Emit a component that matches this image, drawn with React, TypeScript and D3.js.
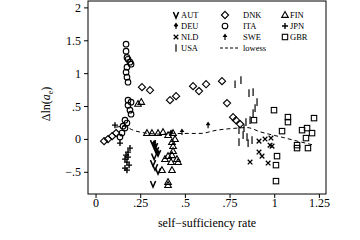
import React from "react";
import * as d3 from "d3";

// values: [self-sufficiency rate, dln(a_e)]
const AUT = [[0.319, -0.056], [0.330, -0.102], [0.336, -0.163], [0.347, -0.208], [0.325, -0.26], [0.319, -0.36], [0.330, -0.421], [0.347, -0.482], [0.319, -0.679]];
const DEU = [[0.42, 0.10], [0.325, -0.06], [0.33, -0.10], [0.335, -0.16], [0.345, -0.20]];
const NLD = [[0.912, -0.026], [0.946, 0.005], [0.979, 0.02], [0.974, -0.087], [0.985, -0.102], [0.912, -0.193], [0.929, -0.254], [0.862, -0.345], [0.963, -0.36]];
const USA = [[0.778, 0.84], [0.811, 0.901], [0.856, 0.704], [0.879, 0.719], [0.901, 0.567], [0.89, 0.476], [0.879, 0.4], [0.862, 0.293], [0.839, 0.263], [0.828, 0.172], [0.8, 0.141], [0.823, 0.065], [0.845, 0.035], [0.8, -0.041], [0.851, -0.056], [0.873, -0.011]];
const DNK = [[0.045, -0.026], [0.067, 0.005], [0.09, 0.05], [0.112, 0.096], [0.257, 0.795], [0.302, 0.749], [0.414, 0.597], [0.448, 0.658], [0.543, 0.81], [0.576, 0.735], [0.616, 0.84], [0.705, 0.886], [0.733, 0.552], [0.767, 0.339], [0.783, 0.293], [0.806, 0.233]];
const ITA = [[0.168, 1.448], [0.168, 1.342], [0.173, 1.247], [0.179, 1.219], [0.19, 1.175], [0.196, 1.144], [0.173, 1.099], [0.168, 1.023], [0.173, 0.947], [0.179, 0.871], [0.179, 0.597], [0.196, 0.567], [0.179, 0.521], [0.19, 0.445], [0.196, 0.384], [0.162, 0.293], [0.173, 0.248], [0.151, 0.202], [0.162, 0.172], [0.145, 0.096], [0.134, 0.035]];
const SWE = [[0.481, 0.111], [0.627, 0.217]];
const FIN = [[0.235, 0.54], [0.253, 0.57], [0.285, 0.096], [0.313, 0.096], [0.347, 0.096], [0.375, 0.111], [0.403, 0.065], [0.431, 0.096], [0.442, 0.005], [0.425, -0.041], [0.431, -0.102], [0.431, -0.178], [0.403, -0.254], [0.425, -0.24], [0.453, -0.299], [0.386, -0.299], [0.42, -0.345], [0.459, -0.345], [0.369, -0.467], [0.425, -0.467], [0.403, -0.649], [0.403, -0.695]];
const JPN = [[0.106, 0.217], [0.134, -0.056], [0.19, -0.132], [0.179, -0.193], [0.168, -0.239], [0.179, -0.269], [0.162, -0.299], [0.173, -0.345], [0.185, -0.391], [0.162, -0.436], [0.173, -0.467]];
const GBR = [[0.884, 0.293], [0.996, 0.445], [1.074, 0.339], [1.074, 0.263], [1.041, 0.126], [1.22, 0.324], [1.153, 0.141], [1.181, 0.172], [1.209, 0.096], [1.175, 0.02], [1.125, -0.087], [1.125, -0.132], [1.186, -0.132], [1.013, -0.254], [1.007, -0.391], [1.007, -0.634]];
const LOWESS = [[0.112, 0.187], [0.157, 0.2], [0.207, 0.141], [0.263, 0.103], [0.358, 0.081], [0.487, 0.091], [0.582, 0.091], [0.677, 0.141], [0.767, 0.167], [0.845, 0.18], [0.918, 0.116], [1.046, 0.03], [1.142, -0.036], [1.22, -0.087]];

const xTicks = [0, 0.25, 0.5, 0.75, 1, 1.25];
const xTickLabels = ["0", ".25", ".5", ".75", "1", "1.25"];
const yTicks = [-0.5, 0, 0.5, 1, 1.5, 2];
const yTickLabels = ["\u2212.5", "0", ".5", "1", "1.5", "2"];

const series = [
  { name: "AUT", shape: "v", data: AUT },
  { name: "DEU", shape: "spade", data: DEU },
  { name: "NLD", shape: "x", data: NLD },
  { name: "USA", shape: "bar", data: USA },
  { name: "DNK", shape: "diamond", data: DNK },
  { name: "ITA", shape: "circle", data: ITA },
  { name: "SWE", shape: "arrow", data: SWE },
  { name: "FIN", shape: "triangle", data: FIN },
  { name: "JPN", shape: "plus", data: JPN },
  { name: "GBR", shape: "square", data: GBR },
];

const FONT = "'Liberation Serif', 'DejaVu Serif', serif";

const Marker = ({ shape, x, y }) => {
  const t = `translate(${x},${y})`;
  const s = { stroke: "#000", strokeWidth: 1.1, fill: "none" };
  switch (shape) {
    case "v":
      return <path transform={t} d="M-2.6,-3L0,3L2.6,-3" {...s} strokeWidth={1.5} />;
    case "spade":
      return <path transform={t} d="M0,-3.4L2.3,-0.3L0.6,0.9L0.6,3L-0.6,3L-0.6,0.9L-2.3,-0.3Z" fill="#000" />;
    case "x":
      return <path transform={t} d="M-2.3,-2.3L2.3,2.3M-2.3,2.3L2.3,-2.3" {...s} strokeWidth={1.3} />;
    case "bar":
      return <path transform={t} d="M0,-3.8L0,3.8" {...s} strokeWidth={1.2} />;
    case "diamond":
      return <path transform={t} d="M0,-3.6L3.6,0L0,3.6L-3.6,0Z" {...s} />;
    case "circle":
      return <circle cx={x} cy={y} r={2.8} {...s} />;
    case "arrow":
      return <path transform={t} d="M0,-3.6L2.4,0L0.6,0L0.6,3L-0.6,3L-0.6,0L-2.4,0Z" fill="#000" />;
    case "triangle":
      return <path transform={t} d="M0,-3.4L3.3,2.4L-3.3,2.4Z" {...s} />;
    case "plus":
      return <path transform={t} d="M-3,0L3,0M0,-3L0,3" {...s} strokeWidth={1.4} />;
    case "square":
      return <rect x={x - 2.7} y={y - 2.7} width={5.4} height={5.4} {...s} />;
    default:
      return null;
  }
};

const legendCols = [
  { mx: 176, tx: 181, items: ["AUT", "DEU", "NLD", "USA"] },
  { mx: 225, tx: 243, items: ["DNK", "ITA", "SWE", "lowess"] },
  { mx: 285, tx: 290, items: ["FIN", "JPN", "GBR"] },
];
const legendRows = [15, 26, 37, 48];

export default function App() {
  const left = 88, right = 326, top = 1, bottom = 194;
  const x = d3.scaleLinear().domain([-0.045, 1.287]).range([left, right]);
  const y = d3.scaleLinear().domain([-0.83, 2.105]).range([bottom, top]);
  const line = d3
    .line()
    .x((d) => x(d[0]))
    .y((d) => y(d[1]))
    .curve(d3.curveMonotoneX);

  return (
    <div style={{ position: "absolute", left: 0, top: 0 }}>
      <svg width={360} height={240} style={{ display: "block" }} fontFamily={FONT}>
        <rect width={360} height={240} fill="#fff" />
        {/* plot frame */}
        <rect x={left} y={top} width={right - left} height={bottom - top} fill="none" stroke="#000" strokeWidth={1} />

        {/* y axis */}
        {yTicks.map((v, i) => (
          <g key={v}>
            <line x1={left - 4} x2={left} y1={y(v)} y2={y(v)} stroke="#000" />
            <text x={left - 7} y={y(v) + 4} textAnchor="end" fontSize={12}>
              {yTickLabels[i]}
            </text>
          </g>
        ))}
        {/* x axis */}
        {xTicks.map((v, i) => (
          <g key={v}>
            <line x1={x(v)} x2={x(v)} y1={bottom} y2={bottom + 4} stroke="#000" />
            <text x={x(v)} y={bottom + 13} textAnchor="middle" fontSize={12}>
              {xTickLabels[i]}
            </text>
          </g>
        ))}
        <text x={(left + right) / 2} y={227} textAnchor="middle" fontSize={12}>
          self−sufficiency rate
        </text>
        <text transform="translate(50,104) rotate(-90)" textAnchor="middle" fontSize={12}>
          Δln(<tspan fontStyle="italic">a</tspan>
          <tspan fontSize={8} dy={3}>e</tspan>
          <tspan dy={-3}>)</tspan>
        </text>

        {/* lowess */}
        <path d={line(LOWESS)} fill="none" stroke="#000" strokeWidth={1} strokeDasharray="4,3" />

        {/* points */}
        {series.map((s) =>
          s.data.map((d, i) => <Marker key={s.name + i} shape={s.shape} x={x(d[0])} y={y(d[1])} />)
        )}

        {/* legend */}
        {legendCols.map((c) =>
          c.items.map((name, r) => {
            const s = series.find((d) => d.name === name);
            const cy = legendRows[r];
            return (
              <g key={name}>
                {s ? (
                  <Marker shape={s.shape} x={c.mx} y={cy} />
                ) : (
                  <line x1={c.mx - 5} x2={c.mx + 13} y1={cy} y2={cy} stroke="#000" strokeDasharray="3,2" />
                )}
                <text x={c.tx} y={cy + 3} fontSize={8.5}>
                  {name}
                </text>
              </g>
            );
          })
        )}
      </svg>
    </div>
  );
}
